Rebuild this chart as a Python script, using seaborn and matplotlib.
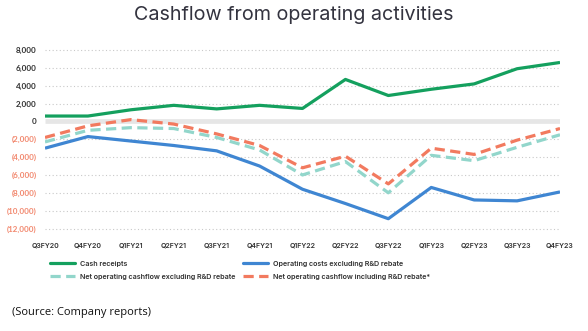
import matplotlib
matplotlib.use("Agg")
import matplotlib.pyplot as plt
from matplotlib.lines import Line2D
import seaborn as sns
import pandas as pd

# Quarter labels (A$ thousands)
quarters = ["Q3FY20", "Q4FY20", "Q1FY21", "Q2FY21", "Q3FY21", "Q4FY21", "Q1FY22",
            "Q2FY22", "Q3FY22", "Q1FY23", "Q2FY23", "Q3FY23", "Q4FY23"]

cash_receipts = [600, 600, 1300, 1800, 1400, 1800, 1450, 4700, 2900, 3600, 4200, 5900, 6600]
operating_costs = [-3000, -1700, -2200, -2700, -3300, -5000, -7600, -9200, -10900,
                   -7400, -8800, -8900, -7900]
net_excl_rebate = [-2300, -1000, -700, -800, -1800, -3200, -6000, -4500, -8000,
                   -3800, -4400, -2900, -1500]
net_incl_rebate = [-1800, -500, 200, -300, -1400, -2700, -5200, -3900, -7000,
                   -3000, -3700, -2100, -800]

series_names = ["Cash receipts",
                "Net operating cashflow excluding R&D rebate",
                "Operating costs excluding R&D rebate",
                "Net operating cashflow including R&D rebate*"]
series_values = [cash_receipts, net_excl_rebate, operating_costs, net_incl_rebate]

y_ticks = [8000, 6000, 4000, 2000, 0, -2000, -4000, -6000, -8000, -10000, -12000]

colors = {
    "Cash receipts": "#14a05e",
    "Operating costs excluding R&D rebate": "#3f86d2",
    "Net operating cashflow excluding R&D rebate": "#92d6cb",
    "Net operating cashflow including R&D rebate*": "#f27a5f",
}
dashes = {
    "Cash receipts": "",
    "Operating costs excluding R&D rebate": "",
    "Net operating cashflow excluding R&D rebate": (3.2, 1.7),
    "Net operating cashflow including R&D rebate*": (3.2, 1.7),
}

frames = [pd.DataFrame({"quarter": quarters, "value": vals, "series": name})
          for name, vals in zip(series_names, series_values)]
df = pd.concat(frames, ignore_index=True)

sns.set_theme(style="white")
plt.rcParams["font.family"] = ["Inter", "DejaVu Sans"]

W, H = 588, 331
fig = plt.figure(figsize=(W / 100, H / 100), dpi=100)

# axes box in pixel terms: x 45..560, y-range -12300..8300 -> 231.2..47.3 px
ax_l, ax_r, ax_t, ax_b = 45, 560, 47.3, 231.2
ax = fig.add_axes([ax_l / W, 1 - ax_b / H, (ax_r - ax_l) / W, (ax_b - ax_t) / H])

# dotted gridlines and grey zero band
for t in y_ticks:
    if t == 0:
        ax.axhline(0, color="#e6e6e6", lw=3.4, zorder=1)
    else:
        ax.axhline(t, color="#c9c9c9", lw=0.8, ls=(0, (1, 2.2)), zorder=0)

sns.lineplot(data=df, x="quarter", y="value", hue="series", style="series",
             palette=colors, dashes=dashes, sort=False, linewidth=2.3,
             legend=False, ax=ax, zorder=3)
for ln in ax.lines:
    ln.set_solid_capstyle("butt")
    ln.set_dash_capstyle("butt")

ax.set_xlim(0, len(quarters) - 1)
ax.set_ylim(-12300, 8300)
ax.set_xlabel("")
ax.set_ylabel("")
for s in ax.spines.values():
    s.set_visible(False)

ax.set_yticks(y_ticks)
ylabels = [f"{t:,}" if t >= 0 else f"({-t:,})" for t in y_ticks]
ax.set_yticklabels(ylabels)
for lab, t in zip(ax.get_yticklabels(), y_ticks):
    lab.set_color("#2f2f2f" if t >= 0 else "#f2876d")
    lab.set_fontsize(5.8)
    lab.set_fontweight("bold")
    lab.set_family(["Lato", "DejaVu Sans"])
ax.tick_params(axis="y", length=0, pad=6)

ax.set_xticks(range(len(quarters)))
ax.set_xticklabels(quarters)
ax.tick_params(axis="x", length=0, pad=8, labelsize=5.0, colors="#2f2f2f")
for lab in ax.get_xticklabels():
    lab.set_fontweight("semibold")

fig.text(294 / W, 1 - 15 / H, "Cashflow from operating activities", ha="center",
         va="center", fontsize=14.2, color="#33333f", fontweight="normal")

# two-column legend below the chart
def handle(name):
    d = dashes[name]
    return Line2D([0], [0], color=colors[name], lw=2.3,
                  ls="-" if d == "" else (0, d), dash_capstyle="butt")

legend_cols = [(50, series_names[:2]), (243, series_names[2:])]
for x0, names in legend_cols:
    leg = fig.legend([handle(n) for n in names], names,
                     loc="upper left", bbox_to_anchor=(x0 / W, 1 - 260.5 / H),
                     frameon=False, fontsize=5.15, handlelength=3.45,
                     handletextpad=0.7, labelspacing=1.0, borderpad=0,
                     borderaxespad=0)
    for txt in leg.get_texts():
        txt.set_color("#2f2f2f")
        txt.set_fontweight("semibold")

fig.text(12 / W, 1 - 312 / H, "(Source: Company reports)", ha="left", va="center",
         fontsize=8, color="#111111", family=["Open Sans", "DejaVu Sans"])

fig.savefig("out.png", dpi=100, facecolor="white")
